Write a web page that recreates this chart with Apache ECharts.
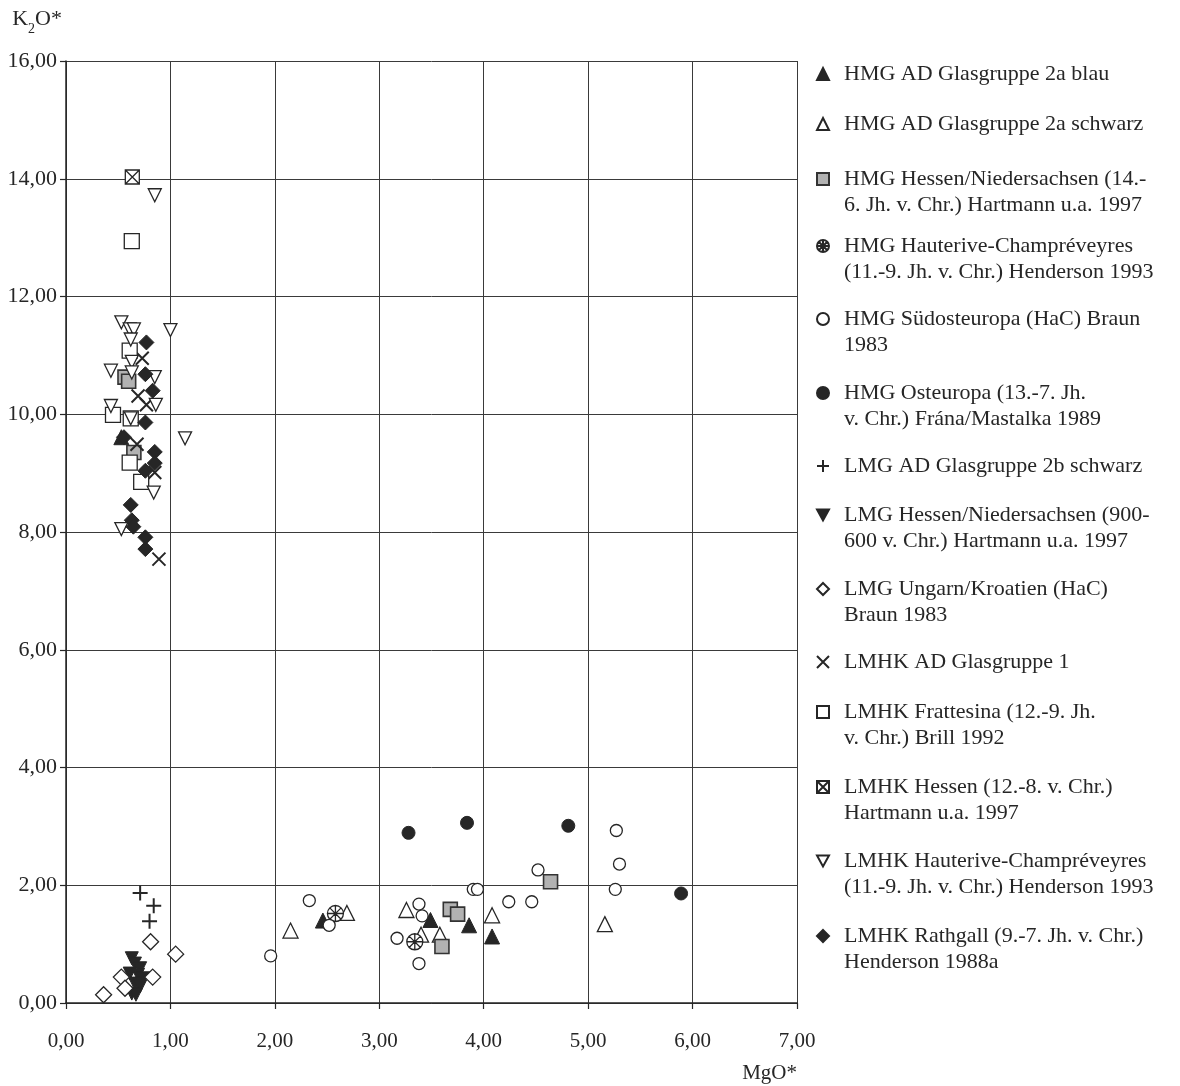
<!DOCTYPE html>
<html>
<head>
<meta charset="utf-8">
<script src="https://cdn.jsdelivr.net/npm/echarts@6/dist/echarts.min.js"></script>
<style>
  html, body { margin: 0; padding: 0; background: #fff; }
  #chart { width: 1180px; height: 1086px; }
</style>
</head>
<body>
<div id="chart"></div>
<script>
// MgO* (x) vs K2O* (y) per glass group, values in wt-%
const hmgBlau = [[0.53, 9.61], [2.46, 1.40], [3.49, 1.41], [3.86, 1.32], [4.08, 1.13]];
const hmgSchwarz = [[2.15, 1.23], [2.69, 1.53], [3.26, 1.58], [3.40, 1.16], [3.58, 1.16], [4.08, 1.49], [5.16, 1.34]];
const hmgHessen = [[0.565, 10.63], [0.60, 10.56], [0.65, 9.35], [3.68, 1.59], [3.75, 1.51], [3.60, 0.96], [4.64, 2.06]];
const hmgHauterive = [[2.58, 1.52], [3.34, 1.04]];
const hmgSuedost = [[1.96, 0.80], [2.33, 1.74], [2.52, 1.32], [3.17, 1.10], [3.38, 1.68], [3.41, 1.48], [3.38, 0.67],
  [3.90, 1.93], [3.94, 1.93], [4.24, 1.72], [4.46, 1.72], [4.52, 2.26], [5.26, 1.93], [5.30, 2.36], [5.27, 2.93]];
const hmgOsteuropa = [[3.28, 2.89], [3.84, 3.06], [4.81, 3.01], [5.89, 1.86]];
const lmgSchwarz = [[0.71, 1.87], [0.84, 1.65], [0.80, 1.39]];
const lmgHessen = [[0.63, 0.76], [0.66, 0.67], [0.71, 0.59], [0.61, 0.50], [0.69, 0.48], [0.74, 0.42],
  [0.66, 0.33], [0.71, 0.28], [0.63, 0.16], [0.67, 0.14]];
const lmgUngarn = [[0.81, 1.04], [1.05, 0.83], [0.53, 0.44], [0.83, 0.44], [0.565, 0.25], [0.36, 0.14]];
const lmhkGruppe1 = [[0.73, 10.95], [0.69, 10.31], [0.77, 10.16], [0.68, 9.49], [0.85, 9.01], [0.89, 7.54]];
const lmhkFrattesina = [[0.63, 12.94], [0.61, 11.08], [0.45, 9.99], [0.62, 9.93], [0.61, 9.18], [0.72, 8.85]];
const lmhkHessen = [[0.635, 14.03]];
const lmhkHauterive = [[0.85, 13.72], [0.53, 11.56], [0.61, 11.44], [0.65, 11.44], [1.00, 11.43], [0.62, 11.27],
  [0.63, 10.89], [0.43, 10.74], [0.63, 10.71], [0.85, 10.63], [0.86, 10.16], [0.43, 10.14], [0.62, 9.93],
  [1.14, 9.59], [0.84, 8.67], [0.53, 8.05]];
const lmhkRathgall = [[0.77, 11.22], [0.76, 10.68], [0.83, 10.40], [0.76, 9.86], [0.555, 9.61], [0.85, 9.36],
  [0.85, 9.17], [0.76, 9.04], [0.62, 8.46], [0.63, 8.20], [0.645, 8.09], [0.76, 7.91], [0.76, 7.71]];

// legend texts, one entry per line
const legendTexts = [
  ['HMG AD Glasgruppe 2a blau'],
  ['HMG AD Glasgruppe 2a schwarz'],
  ['HMG Hessen/Niedersachsen (14.-', '6. Jh. v. Chr.) Hartmann u.a. 1997'],
  ['HMG Hauterive-Champréveyres', '(11.-9. Jh. v. Chr.) Henderson 1993'],
  ['HMG Südosteuropa (HaC) Braun', '1983'],
  ['HMG Osteuropa (13.-7. Jh.', 'v. Chr.) Frána/Mastalka 1989'],
  ['LMG AD Glasgruppe 2b schwarz'],
  ['LMG Hessen/Niedersachsen (900-', '600 v. Chr.) Hartmann u.a. 1997'],
  ['LMG Ungarn/Kroatien (HaC)', 'Braun 1983'],
  ['LMHK AD Glasgruppe 1'],
  ['LMHK Frattesina (12.-9. Jh.', 'v. Chr.) Brill 1992'],
  ['LMHK Hessen (12.-8. v. Chr.)', 'Hartmann u.a. 1997'],
  ['LMHK Hauterive-Champréveyres', '(11.-9. Jh. v. Chr.) Henderson 1993'],
  ['LMHK Rathgall (9.-7. Jh. v. Chr.)', 'Henderson 1988a']
];
const xTicks = [0, 1, 2, 3, 4, 5, 6, 7];
const yTicks = [0, 2, 4, 6, 8, 10, 12, 14, 16];

const INK = '#262626';
const FONT = '"Liberation Serif", "DejaVu Serif", serif';

const SYM = {
  downTri: 'path://M0,0H10L5,9.2Z',
  plus: 'path://M5,0V10M0,5H10',
  cross: 'path://M0,0L10,10M10,0L0,10',
  boxCross: 'path://M0,0H10V10H0ZM0,0L10,10M10,0L0,10',
  star: 'path://M10,5A5,5,0,1,1,0,5A5,5,0,1,1,10,5ZM5,0V10M0,5H10M1.46,1.46L8.54,8.54M8.54,1.46L1.46,8.54'
};
const filled = { color: INK, borderColor: INK, borderWidth: 1 };
const hollow = { color: '#fff', borderColor: INK, borderWidth: 1.3 };
const greyBox = { color: '#b2b2b2', borderColor: '#333', borderWidth: 1.6 };
const stroked = { color: INK, borderColor: INK, borderWidth: 2 };

const groups = [
  { data: hmgBlau, symbol: 'triangle', size: 15, style: filled },
  { data: hmgSchwarz, symbol: 'triangle', size: 15, style: hollow },
  { data: hmgHessen, symbol: 'rect', size: 14, style: greyBox },
  { data: hmgHauterive, symbol: SYM.star, size: 16, style: hollow },
  { data: hmgSuedost, symbol: 'circle', size: 12, style: hollow },
  { data: hmgOsteuropa, symbol: 'circle', size: 13, style: filled },
  { data: lmgSchwarz, symbol: SYM.plus, size: 15, style: stroked },
  { data: lmgHessen, symbol: SYM.downTri, size: 13, style: filled },
  { data: lmgUngarn, symbol: 'diamond', size: 16, style: hollow },
  { data: lmhkGruppe1, symbol: SYM.cross, size: 13, style: stroked },
  { data: lmhkFrattesina, symbol: 'rect', size: 15, style: hollow },
  { data: lmhkHessen, symbol: SYM.boxCross, size: 14, style: hollow },
  { data: lmhkHauterive, symbol: SYM.downTri, size: 13, style: hollow },
  { data: lmhkRathgall, symbol: 'diamond', size: 15, style: filled }
];

const names = legendTexts.map(l => l.join(' '));

// vertical centre of each legend entry's first line
const legendFirstLine = [74, 124, 179, 246, 319, 393, 466, 515, 589, 662, 712, 787, 861, 936];
const LINE_H = 26;

// two-line entries get a blank leading line so the icon sits beside the first line
const legends = groups.map((g, i) => {
  const lines = legendTexts[i];
  const two = lines.length > 1;
  const shown = two ? ['', ...lines] : lines;
  return {
    data: [names[i]],
    left: 816,
    top: legendFirstLine[i] - shown.length * LINE_H / 2,
    orient: 'vertical',
    padding: 0,
    itemGap: 0,
    itemWidth: 12,
    itemHeight: 12,
    selectedMode: false,
    formatter: () => shown.join('\n'),
    textStyle: {
      fontFamily: FONT, fontSize: 22, color: INK, lineHeight: LINE_H,
      padding: [0, 0, 0, 10]
    }
  };
});

const fmt = v => v.toFixed(2).replace('.', ',');

const option = {
  backgroundColor: '#fff',
  animation: false,
  grid: { left: 66, right: 383, top: 61, bottom: 83, show: false },
  legend: legends,
  xAxis: {
    type: 'value', min: xTicks[0], max: xTicks[xTicks.length - 1], interval: 1,
    name: 'MgO*', nameLocation: 'end', nameGap: 0,
    nameTextStyle: { fontFamily: FONT, fontSize: 21, color: INK, align: 'right', verticalAlign: 'top', padding: [60, 0, 0, 0] },
    axisLine: { show: true, lineStyle: { color: INK, width: 1.5 } },
    axisTick: { show: true, length: 6, lineStyle: { color: INK, width: 1.2 } },
    axisLabel: { formatter: fmt, fontFamily: FONT, fontSize: 21, color: INK, margin: 28 },
    splitLine: { show: true, lineStyle: { color: '#3a3a3a', width: 1 } }
  },
  yAxis: {
    type: 'value', min: yTicks[0], max: yTicks[yTicks.length - 1], interval: 2,
    name: 'K{sub|2}O*', nameLocation: 'end', nameGap: 31,
    nameTextStyle: {
      fontFamily: FONT, fontSize: 22, color: INK, align: 'right', verticalAlign: 'bottom', padding: [0, 4, 0, 0],
      rich: { sub: { fontFamily: FONT, fontSize: 14, color: INK, verticalAlign: 'bottom', padding: [0, 0, -6, 0] } }
    },
    axisLine: { show: true, lineStyle: { color: INK, width: 1.5 } },
    axisTick: { show: true, length: 6, lineStyle: { color: INK, width: 1.2 } },
    axisLabel: { formatter: fmt, fontFamily: FONT, fontSize: 22, color: INK, margin: 9 },
    splitLine: { show: true, lineStyle: { color: '#3a3a3a', width: 1 } }
  },
  series: groups.map((g, i) => ({
    type: 'scatter',
    name: names[i],
    data: g.data,
    symbol: g.symbol,
    symbolSize: g.size,
    itemStyle: Object.assign({ opacity: 1 }, g.style),
    emphasis: { disabled: true },
    z: 2 + i
  }))
};

const chart = echarts.init(document.getElementById('chart'), null, { renderer: 'canvas' });
chart.setOption(option);
</script>
</body>
</html>
